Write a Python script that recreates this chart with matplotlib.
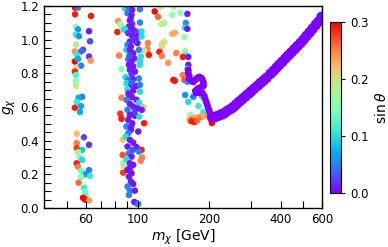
import numpy as np
import matplotlib
matplotlib.use("Agg")
from matplotlib import pyplot as plt
from matplotlib import colors, cm, ticker

# scattered points (m_chi [GeV], g_chi, sin theta)
m_scat = [54.1, 55.7, 54.1, 63.2, 54.6, 55.7, 62.0, 54.6, 56.2, 62.6,
          54.6, 58.5, 57.4, 54.0, 55.0, 62.0, 63.0, 54.0, 55.7, 57.4,
          54.6, 54.0, 54.6, 54.6, 54.6, 58.0, 56.0, 55.0, 57.4, 54.0,
          56.8, 55.0, 59.0, 62.0, 55.0, 55.0, 58.0, 55.7, 56.8, 58.0,
          55.0, 55.7, 62.0, 57.4, 60.0, 62.6, 57.4, 56.0, 59.0, 59.7,
          60.0, 58.5, 59.7, 62.0,
          82.3, 84.0, 81.7, 87.0, 83.0, 85.0, 85.0, 84.0, 85.0, 86.0,
          86.0, 86.5, 86.5, 87.0,
          110.0, 109.5, 111.0, 106.0, 105.0, 105.0, 106.0, 103.4, 102.5, 104.0,
          117.5, 121.5, 124.5, 141.0, 139.5, 151.0, 161.5, 125.5, 129.0, 159.0,
          158.0, 161.5, 139.5, 143.0, 157.0, 129.0, 126.0, 126.0, 123.0, 126.0,
          145.0, 158.0, 159.0, 154.5, 134.0, 163.0, 163.0, 161.5, 141.0, 143.0,
          154.5, 157.0, 161.5,
          158.0, 171.0, 187.0, 163.0, 180.0, 189.0, 166.0]
g_scat = [1.19, 1.19, 1.15, 1.14, 1.075, 1.06, 1.05, 1.03, 1.02, 0.99,
          0.97, 0.94, 0.93, 0.93, 0.91, 0.90, 0.875, 0.87, 0.885, 0.845,
          0.83, 0.81, 0.79, 0.755, 0.725, 0.66, 0.655, 0.63, 0.605, 0.595,
          0.57, 0.44, 0.42, 0.375, 0.385, 0.355, 0.345, 0.33, 0.30, 0.285,
          0.265, 0.245, 0.225, 0.22, 0.20, 0.19, 0.185, 0.15, 0.12, 0.095,
          0.07, 0.06, 0.05, 0.045,
          1.11, 1.09, 1.045, 1.06, 0.905, 0.825, 0.655, 0.56, 0.53, 0.405,
          0.315, 0.265, 0.21, 0.245,
          0.979, 0.943, 0.909, 0.935, 0.598, 0.583, 0.503, 0.345, 0.28, 0.30,
          1.167, 1.135, 1.194, 1.194, 1.147, 1.159, 1.153, 1.093, 1.099, 1.099,
          1.07, 1.064, 1.034, 1.04, 1.016, 0.986, 0.974, 0.957, 0.927, 0.903,
          0.92, 0.933, 0.909, 0.897, 0.862, 0.897, 0.85, 0.826, 0.76, 0.755,
          0.79, 0.76, 0.749,
          0.671, 0.66, 0.66, 0.63, 0.606, 0.57, 0.553]
s_scat = [0.30, 0.05, 0.29, 0.29, 0.16, 0.06, 0.01, 0.11, 0.06, 0.03,
          0.19, 0.03, 0.04, 0.24, 0.11, 0.02, 0.24, 0.30, 0.07, 0.05,
          0.19, 0.29, 0.12, 0.16, 0.19, 0.05, 0.07, 0.11, 0.07, 0.29,
          0.07, 0.22, 0.03, 0.02, 0.25, 0.28, 0.09, 0.18, 0.15, 0.10,
          0.29, 0.25, 0.05, 0.14, 0.06, 0.11, 0.15, 0.26, 0.11, 0.14,
          0.12, 0.30, 0.30, 0.24,
          0.24, 0.17, 0.29, 0.10, 0.25, 0.15, 0.25, 0.28, 0.29, 0.22,
          0.27, 0.16, 0.28, 0.20,
          0.25, 0.25, 0.29, 0.19, 0.22, 0.21, 0.29, 0.29, 0.25, 0.25,
          0.30, 0.26, 0.18, 0.17, 0.16, 0.16, 0.01, 0.18, 0.18, 0.06,
          0.10, 0.01, 0.23, 0.23, 0.16, 0.20, 0.20, 0.20, 0.29, 0.25,
          0.25, 0.17, 0.12, 0.29, 0.24, 0.01, 0.01, 0.10, 0.30, 0.29,
          0.25, 0.27, 0.06,
          0.06, 0.05, 0.10, 0.10, 0.11, 0.11, 0.16]

# dense column near m_chi ~ 95 GeV
m_col = [88.0, 91.4, 94.4, 101.8, 90.2, 93.8, 92.3, 94.4, 101.8, 91.4,
         93.8, 88.0, 96.3, 100.1, 103.4, 90.8, 94.4, 98.5, 103.4, 92.3,
         99.4, 90.2, 93.2, 89.3, 92.3, 95.3, 100.7, 96.3, 102.8, 90.8,
         93.8, 101.8, 91.4, 95.3, 101.8, 92.3, 93.8, 88.5, 90.8, 95.3,
         100.7, 89.3, 93.8, 98.5, 101.8, 90.2, 95.3, 101.8, 91.4, 94.4,
         89.3, 98.5, 100.7, 92.3, 95.3, 99.4, 103.4, 90.2, 92.3, 96.9,
         101.1, 90.8, 94.4, 100.1, 89.3, 93.2, 90.8, 88.5, 92.3, 95.3,
         90.2, 98.5, 100.7, 91.4, 93.8, 89.3, 92.3, 95.3, 90.2, 93.8,
         91.4, 93.2, 95.3, 90.2, 92.3, 96.9, 91.4, 96.3, 98.5, 100.1,
         93.0, 96.0, 92.0, 97.0, 94.0, 91.0, 96.5, 93.5, 95.0, 92.5]
g_col = [1.186, 1.186, 1.177, 1.180, 1.157, 1.147, 1.113, 1.093, 1.101, 1.077,
         1.068, 1.062, 1.054, 1.042, 1.048, 1.038, 1.022, 1.014, 1.018, 0.988,
         0.979, 0.969, 0.959, 0.939, 0.939, 0.919, 0.939, 0.889, 0.899, 0.883,
         0.870, 0.870, 0.850, 0.840, 0.850, 0.820, 0.796, 0.777, 0.761, 0.765,
         0.769, 0.741, 0.731, 0.725, 0.731, 0.705, 0.697, 0.691, 0.672, 0.658,
         0.642, 0.642, 0.626, 0.618, 0.602, 0.592, 0.583, 0.583, 0.553, 0.547,
         0.543, 0.523, 0.503, 0.454, 0.484, 0.464, 0.444, 0.424, 0.404, 0.388,
         0.365, 0.361, 0.335, 0.325, 0.305, 0.289, 0.266, 0.256, 0.226, 0.206,
         0.186, 0.157, 0.143, 0.127, 0.103, 0.103, 0.077, 0.036, 0.028, 0.024,
         1.125, 0.995, 0.905, 0.810, 0.745, 0.680, 0.565, 0.480, 0.345, 0.240]
s_col = [0.10, 0.05, 0.01, 0.05, 0.05, 0.01, 0.01, 0.02, 0.05, 0.01,
         0.01, 0.10, 0.01, 0.02, 0.10, 0.02, 0.01, 0.01, 0.10, 0.01,
         0.01, 0.05, 0.01, 0.09, 0.01, 0.01, 0.05, 0.01, 0.10, 0.05,
         0.01, 0.10, 0.01, 0.01, 0.10, 0.01, 0.02, 0.10, 0.05, 0.01,
         0.05, 0.10, 0.01, 0.01, 0.05, 0.10, 0.01, 0.10, 0.01, 0.01,
         0.05, 0.01, 0.10, 0.01, 0.01, 0.01, 0.01, 0.05, 0.01, 0.01,
         0.10, 0.01, 0.01, 0.01, 0.05, 0.01, 0.05, 0.10, 0.01, 0.01,
         0.01, 0.01, 0.05, 0.05, 0.01, 0.10, 0.01, 0.01, 0.01, 0.01,
         0.01, 0.01, 0.01, 0.05, 0.05, 0.01, 0.05, 0.01, 0.01, 0.05,
         0.01, 0.02, 0.03, 0.01, 0.04, 0.01, 0.02, 0.01, 0.03, 0.01]

# orange / red cluster at the bottom of the kink
m_orng = [165.0, 170.0, 175.0, 180.0, 185.0, 190.0, 168.0, 173.0, 195.0, 205.0, 178.0]
g_orng = [0.525, 0.530, 0.535, 0.540, 0.540, 0.545, 0.515, 0.510, 0.550, 0.505, 0.520]
s_orng = [0.23, 0.25, 0.24, 0.23, 0.25, 0.22, 0.29, 0.29, 0.24, 0.30, 0.26]

# purple kink between 160 and 205 GeV
m_kink = [163.0, 163.0, 164.5, 164.5, 168.0, 171.0, 174.5, 178.0, 181.5, 185.0,
          187.0, 189.0, 189.0, 185.0, 181.5, 178.0, 174.5, 176.0, 181.5, 187.0,
          190.5, 192.0, 194.0, 196.0, 198.0, 200.0, 202.0, 202.0, 204.0]
g_kink = [0.820, 0.802, 0.784, 0.766, 0.755, 0.749, 0.761, 0.772, 0.778, 0.772,
          0.761, 0.743, 0.725, 0.719, 0.713, 0.707, 0.695, 0.683, 0.683, 0.683,
          0.665, 0.648, 0.630, 0.612, 0.594, 0.576, 0.558, 0.541, 0.529]

# rising band above 200 GeV
m_band = [206, 212, 218, 225, 232, 238, 246, 253, 260, 268,
          276, 284, 293, 301, 310, 320, 329, 339, 349, 363,
          374, 385, 396, 408, 420, 432, 445, 459, 472, 486,
          501, 516, 531, 547, 563, 580, 597]
g_band = [0.535, 0.541, 0.547, 0.556, 0.564, 0.576, 0.588, 0.600, 0.616, 0.632,
          0.647, 0.663, 0.679, 0.694, 0.710, 0.726, 0.742, 0.757, 0.773, 0.797,
          0.815, 0.834, 0.852, 0.870, 0.889, 0.907, 0.925, 0.944, 0.962, 0.980,
          1.001, 1.023, 1.043, 1.065, 1.086, 1.107, 1.135]

# coloured specks along the band edges
m_spk = [230, 262, 300, 355, 408, 470, 560, 330]
g_spk = [0.545, 0.600, 0.675, 0.790, 0.880, 0.950, 1.098, 0.730]
s_spk = [0.10, 0.20, 0.10, 0.30, 0.29, 0.10, 0.30, 0.12]

cmap = plt.get_cmap('rainbow')
norm = colors.Normalize(vmin=0.0, vmax=0.3)

fig = plt.figure(figsize=(3.88, 2.47), dpi=100)
ax = fig.add_axes([0.1134, 0.158, 0.717, 0.818])
cax = fig.add_axes([0.8505, 0.219, 0.0284, 0.692])

kw = dict(cmap=cmap, norm=norm, linewidths=0)
ax.scatter(m_spk, g_spk, c=s_spk, s=26, **kw)
ax.scatter(m_band, g_band, c=np.zeros(len(m_band)), s=58, **kw)
ax.scatter(m_scat, g_scat, c=s_scat, s=22, **kw)
ax.scatter(m_col, g_col, c=s_col, s=22, **kw)
ax.scatter(m_orng, g_orng, c=s_orng, s=22, **kw)
ax.scatter(m_kink, g_kink, c=np.zeros(len(m_kink)), s=24, **kw)

ax.set_xscale('log')
ax.set_xlim(40, 600)
ax.set_ylim(0, 1.2)
ax.xaxis.set_major_locator(ticker.FixedLocator([60, 100, 200, 400, 600]))
ax.xaxis.set_major_formatter(ticker.FixedFormatter(['60', '100', '200', '400', '600']))
ax.xaxis.set_minor_locator(ticker.FixedLocator([50, 70, 80, 90, 300, 500]))
ax.xaxis.set_minor_formatter(ticker.NullFormatter())
ax.yaxis.set_major_locator(ticker.MultipleLocator(0.2))
ax.yaxis.set_minor_locator(ticker.MultipleLocator(0.05))
ax.yaxis.set_major_formatter(ticker.FormatStrFormatter('%.1f'))
ax.tick_params(which='both', direction='in', length=5, width=0.8,
               top=False, right=False, labelsize=8.5)
for sp in ax.spines.values():
    sp.set_linewidth(1.0)

ax.set_xlabel(r'$m_\chi$ [GeV]', fontsize=10, labelpad=1)
ax.set_ylabel(r'$g_\chi$', fontsize=10, labelpad=2)

sm = cm.ScalarMappable(norm=norm, cmap=cmap)
cb = fig.colorbar(sm, cax=cax)
cb.set_ticks([0.0, 0.1, 0.2, 0.3])
cb.ax.yaxis.set_major_formatter(ticker.FormatStrFormatter('%.1f'))
cb.ax.tick_params(labelsize=8.5, length=3, width=0.8)
cb.set_label(r'$\sin\theta$', fontsize=10)

fig.savefig('out.png', dpi=100)
